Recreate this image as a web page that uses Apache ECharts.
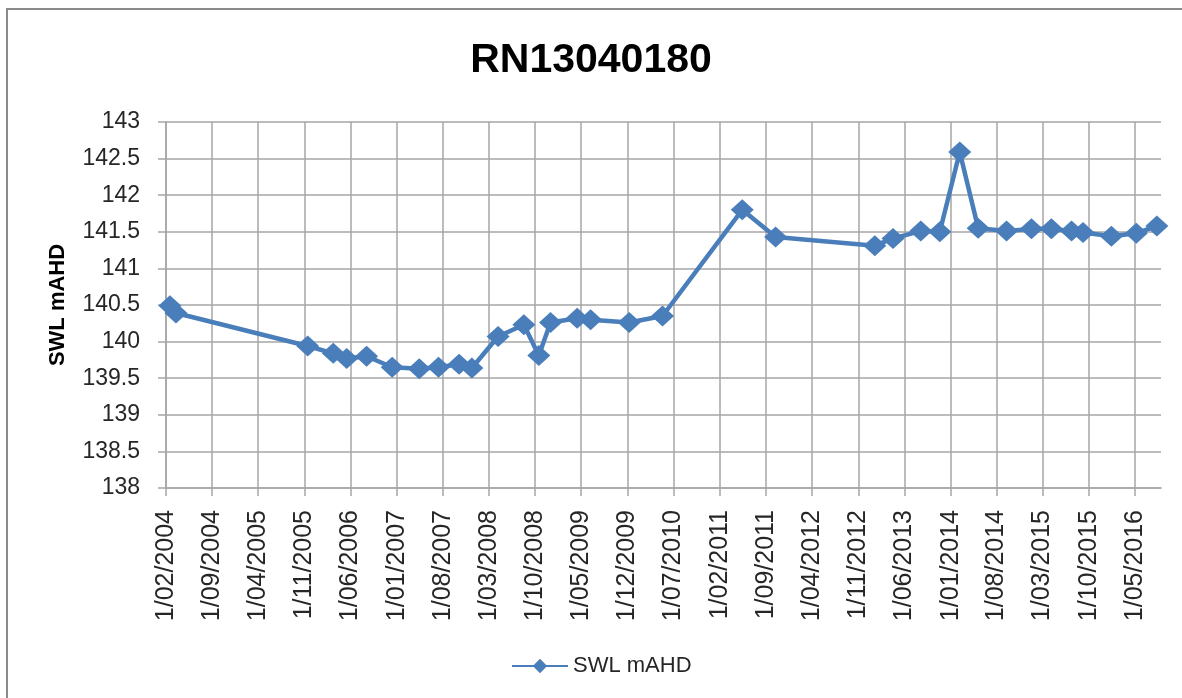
<!DOCTYPE html>
<html>
<head>
<meta charset="utf-8">
<script src="https://cdn.jsdelivr.net/npm/echarts@6/dist/echarts.min.js"></script>
<style>
  html, body { margin: 0; padding: 0; background: #fff; }
  #chart { width: 1182px; height: 698px; }
</style>
</head>
<body>
<div id="chart"></div>
<script>
// Standing water level readings for bore RN13040180
const sampleDates = [
  '2004-02-19', '2004-03-18', '2005-11-16', '2006-03-14', '2006-05-15',
  '2006-08-15', '2006-12-11', '2007-04-15', '2007-07-13', '2007-10-16',
  '2007-12-14', '2008-04-13', '2008-08-10', '2008-10-18', '2008-12-11',
  '2009-04-13', '2009-06-14', '2009-12-09', '2010-05-12', '2011-05-15',
  '2011-10-16', '2013-01-16', '2013-04-10', '2013-08-16', '2013-11-12',
  '2014-02-12', '2014-05-08', '2014-09-16', '2015-01-09', '2015-04-11',
  '2015-07-13', '2015-09-04', '2016-01-13', '2016-05-07', '2016-08-10'
];
const swlValues = [
  140.49, 140.39, 139.94, 139.84, 139.77,
  139.80, 139.65, 139.63, 139.65, 139.69,
  139.64, 140.07, 140.23, 139.81, 140.26,
  140.32, 140.30, 140.26, 140.35, 141.80,
  141.43, 141.31, 141.41, 141.51, 141.50,
  142.59, 141.55, 141.51, 141.54, 141.54,
  141.51, 141.49, 141.44, 141.48, 141.58
];
// Date axis ticks, one every seven months
const tickDates = [
  '2004-02-01', '2004-09-01', '2005-04-01', '2005-11-01', '2006-06-01',
  '2007-01-01', '2007-08-01', '2008-03-01', '2008-10-01', '2009-05-01',
  '2009-12-01', '2010-07-01', '2011-02-01', '2011-09-01', '2012-04-01',
  '2012-11-01', '2013-06-01', '2014-01-01', '2014-08-01', '2015-03-01',
  '2015-10-01', '2016-05-01'
];
const axisStart = '2004-02-01';
const axisEnd = '2016-08-29';
const yMin = 138, yMax = 143, yStep = 0.5;
const titleText = 'RN13040180';
const seriesName = 'SWL mAHD';

// x values are day numbers counted from the start of the axis
const DAY = 86400000;
function toTime(s) {
  const p = s.split('-').map(Number);
  return Date.UTC(p[0], p[1] - 1, p[2]);
}
const t0 = toTime(axisStart);
function toDay(s) { return Math.round((toTime(s) - t0) / DAY); }
function fmtDay(v) {
  const d = new Date(t0 + v * DAY);
  const m = String(d.getUTCMonth() + 1).padStart(2, '0');
  return d.getUTCDate() + '/' + m + '/' + d.getUTCFullYear();
}

const points = sampleDates.map((d, i) => [toDay(d), swlValues[i]]);
const tickDays = tickDates.map(toDay);

const FONT = '"Liberation Sans", Arial, sans-serif';
const BLUE = '#4a7ebb';
const GRID = '#a6a6a6';

const chart = echarts.init(document.getElementById('chart'), null, { renderer: 'canvas' });
chart.setOption({
  animation: false,
  backgroundColor: '#fff',
  graphic: [{
    type: 'rect',
    shape: { x: 7, y: 9, width: 1240, height: 760 },
    style: { fill: 'none', stroke: '#8a8a8a', lineWidth: 2 },
    silent: true,
    z: 0
  }],
  title: {
    text: titleText,
    left: 'center',
    top: 35,
    textStyle: { fontFamily: FONT, fontWeight: 'bold', fontSize: 41, color: '#000' }
  },
  legend: {
    data: [seriesName],
    left: 506,
    top: 650,
    itemWidth: 56,
    itemHeight: 18,
    itemGap: 10,
    textStyle: { fontFamily: FONT, fontSize: 22, color: '#262626' }
  },
  grid: { left: 166, right: 21, top: 122, bottom: 210, containLabel: false },
  xAxis: {
    type: 'value',
    min: 0,
    max: toDay(axisEnd),
    axisLine: { show: true, onZero: false, lineStyle: { color: GRID, width: 1.5 } },
    axisTick: { show: true, length: 8, customValues: tickDays, lineStyle: { color: GRID, width: 1.5 } },
    splitLine: { show: true, lineStyle: { color: GRID, width: 1.5 } },
    axisLabel: {
      customValues: tickDays,
      rotate: 90,
      margin: 22,
      formatter: v => fmtDay(v),
      fontFamily: FONT,
      fontSize: 25,
      color: '#262626'
    }
  },
  yAxis: {
    type: 'value',
    min: yMin,
    max: yMax,
    interval: yStep,
    name: seriesName,
    nameLocation: 'middle',
    nameGap: 97,
    nameTextStyle: { fontFamily: FONT, fontWeight: 'bold', fontSize: 22, color: '#000' },
    axisLine: { show: true, lineStyle: { color: GRID, width: 1.5 } },
    axisTick: { show: true, length: 8, lineStyle: { color: GRID, width: 1.5 } },
    splitLine: { show: true, lineStyle: { color: GRID, width: 1.5 } },
    axisLabel: {
      margin: 26,
      formatter: v => String(v),
      fontFamily: FONT,
      fontSize: 23,
      color: '#262626'
    }
  },
  series: [{
    name: seriesName,
    type: 'line',
    data: points,
    symbol: 'diamond',
    symbolSize: [23, 21],
    showAllSymbol: true,
    lineStyle: { color: BLUE, width: 4.5 },
    itemStyle: { color: BLUE },
    z: 3
  }]
});
</script>
</body>
</html>
